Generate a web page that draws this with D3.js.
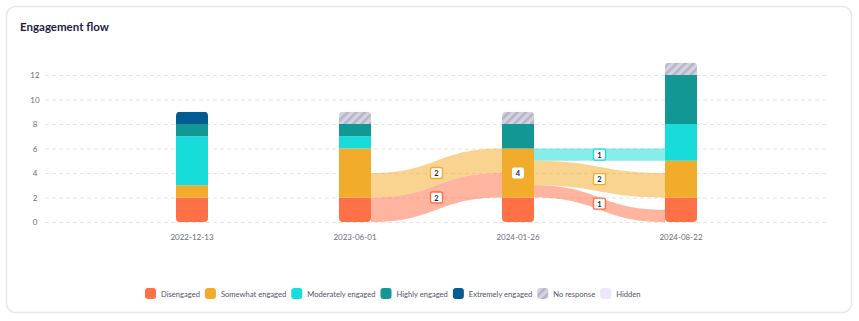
<!DOCTYPE html>
<html><head><meta charset="utf-8">
<script src="https://cdn.jsdelivr.net/npm/d3@7"></script>
<style>
body{margin:0;background:#fff;font-family:Lato,"Noto Sans",sans-serif;}
</style></head><body><svg id="c" width="859" height="321"></svg>
<script>
const dates = ["2022-12-13","2023-06-01","2024-01-26","2024-08-22"];
const categories = ["Disengaged","Somewhat engaged","Moderately engaged","Highly engaged","Extremely engaged","No response","Hidden"];
const colors = ["#fe7045","#f2ac2b","#17dcd9","#129795","#035c91","#c9c8d8","#ece8fa"];
// values per category per date
const disengaged = [2,2,2,2];
const somewhat   = [1,4,4,3];
const moderately = [4,1,0,3];
const highly     = [1,1,2,4];
const extremely  = [1,0,0,0];
const noResponse = [0,1,1,1];
const hidden     = [0,0,0,0];
const yTicks = [0,2,4,6,8,10,12];
// flows between consecutive dates
const flowFrom   = [1,1,2,2,2];
const flowValue  = [2,2,1,2,1];
const flowColor  = [0,1,2,1,0];
const flowSrcY0  = [0,2,5,3,2];
const flowTgtY0  = [2,4,5,2,0];
const segLabels = [{d:2,cat:1,v:4}];

const series=[disengaged,somewhat,moderately,highly,extremely,noResponse,hidden];
const svg=d3.select("#c");
svg.append("rect").attr("x",6.5).attr("y",6.5).attr("width",845).attr("height",306).attr("rx",9)
  .attr("fill","#fff").attr("stroke","#e8e8ec").attr("stroke-width",1.5);
svg.append("text").attr("x",20).attr("y",31).text("Engagement flow")
  .attr("font-size",11.5).attr("font-weight",700).attr("fill","#1f1c45");

const defs=svg.append("defs");
const pat=defs.append("pattern").attr("id","hatch").attr("patternUnits","userSpaceOnUse")
  .attr("width",6).attr("height",6).attr("patternTransform","rotate(45)");
pat.append("rect").attr("width",6).attr("height",6).attr("fill","#d3d2de");
pat.append("rect").attr("width",2.5).attr("height",6).attr("fill","#b5b4c8");

const y=d3.scaleLinear().domain([0,12]).range([222,75]);
const x=d3.scalePoint().domain(dates).range([192,681]);
const bw=32;

// grid
const g=svg.append("g");
yTicks.forEach(t=>{
  g.append("line").attr("x1",45).attr("x2",829).attr("y1",y(t)+0.5).attr("y2",y(t)+0.5)
   .attr("stroke","#e4e4ea").attr("stroke-dasharray","4,3");
  g.append("text").attr("x",35).attr("y",y(t)+3).attr("text-anchor","middle")
   .attr("font-size",8).attr("fill","#6d6b82").text(t);
});
dates.forEach(d=>{
  g.append("text").attr("x",x(d)).attr("y",240).attr("text-anchor","middle")
   .attr("font-size",8).attr("fill","#6d6b82").text(d);
});

// flows
const fl=svg.append("g");
flowValue.forEach((v,i)=>{
  const d0=dates[flowFrom[i]], d1=dates[flowFrom[i]+1];
  const x0=x(d0)+bw/2, x1=x(d1)-bw/2, xm=(x0+x1)/2;
  const a0=y(flowSrcY0[i]+v), b0=y(flowSrcY0[i]);
  const a1=y(flowTgtY0[i]+v), b1=y(flowTgtY0[i]);
  const p=d3.path();
  p.moveTo(x0,a0); p.bezierCurveTo(xm,a0,xm,a1,x1,a1);
  p.lineTo(x1,b1); p.bezierCurveTo(xm,b1,xm,b0,x0,b0); p.closePath();
  fl.append("path").attr("d",p.toString()).attr("fill",colors[flowColor[i]]).attr("fill-opacity",0.52);
});

// bars
const bars=svg.append("g");
dates.forEach((d,di)=>{
  const total=d3.sum(series,s=>s[di]);
  const cid="clip"+di;
  defs.append("clipPath").attr("id",cid).append("rect")
    .attr("x",x(d)-bw/2).attr("y",y(total)).attr("width",bw).attr("height",y(0)-y(total)).attr("rx",4);
  const bg=bars.append("g").attr("clip-path",`url(#${cid})`);
  let acc=0;
  series.forEach((s,ci)=>{
    const v=s[di]; if(!v) return;
    bg.append("rect").attr("x",x(d)-bw/2).attr("y",y(acc+v)).attr("width",bw).attr("height",y(acc)-y(acc+v))
      .attr("fill",ci===5?"url(#hatch)":colors[ci]);
    acc+=v;
  });
});

// labels
function label(cx,cy,txt,stroke){
  const lg=svg.append("g");
  lg.append("rect").attr("x",cx-6).attr("y",cy-5.5).attr("width",12).attr("height",11).attr("rx",2)
    .attr("fill","#fff").attr("stroke",stroke||"none").attr("stroke-width",1.3);
  lg.append("text").attr("x",cx).attr("y",cy+3).attr("text-anchor","middle").attr("font-size",7.5)
    .attr("font-weight",700).attr("fill","#1f1c45").text(txt);
}
flowValue.forEach((v,i)=>{
  const d0=dates[flowFrom[i]], d1=dates[flowFrom[i]+1];
  const cx=(x(d0)+x(d1))/2;
  const cy=(y(flowSrcY0[i]+v/2)+y(flowTgtY0[i]+v/2))/2;
  label(cx,cy,v,colors[flowColor[i]]);
});
segLabels.forEach(s=>{
  let base=0; for(let c=0;c<s.cat;c++) base+=series[c][s.d];
  label(x(dates[s.d]),y(base+series[s.cat][s.d]/2),s.v,null);
});

// legend
const lgd=svg.append("g");
const items=[];
let cur=0;
const fs=7.6;
const tmp=svg.append("text").attr("font-size",fs);
categories.forEach((c,i)=>{
  tmp.text(c); const w=tmp.node().getComputedTextLength();
  items.push({c,i,x:cur,w}); cur+=11+5+w+5;
});
tmp.remove();
const start=145;
items.forEach(it=>{
  const gx=start+it.x;
  lgd.append("rect").attr("x",gx).attr("y",288).attr("width",11).attr("height",11).attr("rx",3)
    .attr("fill",it.i===5?"url(#hatch)":colors[it.i]);
  lgd.append("text").attr("x",gx+16).attr("y",296.5).attr("font-size",fs).attr("fill","#55536b").text(it.c);
});
</script></body></html>
